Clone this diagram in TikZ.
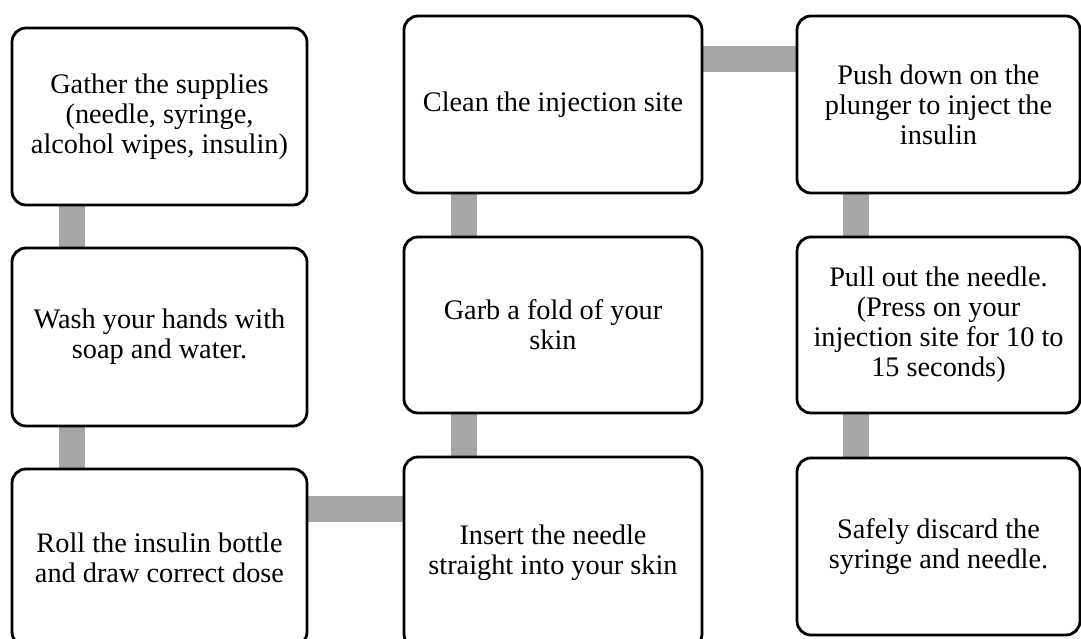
\documentclass[tikz,border=0pt]{standalone}
\usepackage{fontspec}
\setmainfont{Liberation Serif}
\usetikzlibrary{backgrounds}
\definecolor{bargray}{HTML}{A6A6A6}
\tikzset{
  stepbox/.style={rectangle,draw,line width=2.8pt,rounded corners=14pt,fill=white,
    align=center,inner sep=0pt,font=\fontsize{28.3}{30}\selectfont},
  bar/.style={draw=bargray,line width=26pt}
}
\begin{document}
\begin{tikzpicture}[x=1pt,y=-1pt]
\useasboundingbox (0,0) rectangle (1081,639);
\node[stepbox,minimum width=295pt,minimum height=177pt] (gather) at (159.5,116.5) {Gather the supplies\\(needle, syringe,\\alcohol wipes, insulin)};
\node[stepbox,minimum width=295pt,minimum height=178pt] (wash) at (159.5,337) {Wash your hands with\\soap and water.};
\node[stepbox,minimum width=295pt,minimum height=177pt] (roll) at (159.5,557.5) {Roll the insulin bottle\\and draw correct dose};
\node[stepbox,minimum width=298pt,minimum height=177pt] (clean) at (553,104.5) {Clean the injection site};
\node[stepbox,minimum width=298pt,minimum height=176pt] (fold) at (553,325) {Garb a fold of your\\skin};
\node[stepbox,minimum width=298pt,minimum height=191pt] (insert) at (553,552.5) {Insert the needle\\straight into your skin};
\node[stepbox,minimum width=283pt,minimum height=177pt] (push) at (938.5,104.5) {Push down on the\\plunger to inject the\\insulin};
\node[stepbox,minimum width=283pt,minimum height=176pt] (pull) at (938.5,325) {Pull out the needle.\\(Press on your\\injection site for 10 to\\15 seconds)};
\node[stepbox,minimum width=283pt,minimum height=177pt] (discard) at (938.5,546.5) {Safely discard the\\syringe and needle.};
% gray links behind the boxes
\begin{pgfonlayer}{background}
\draw[bar] ([xshift=61pt]gather.south west) -- ([xshift=61pt]wash.north west);
\draw[bar] ([xshift=61pt]wash.south west) -- ([xshift=61pt]roll.north west);
\draw[bar] ([yshift=-41pt]roll.north east) -- ([yshift=-53pt]insert.north west);
\draw[bar] ([xshift=61pt]insert.north west) -- ([xshift=61pt]fold.south west);
\draw[bar] ([xshift=61pt]fold.north west) -- ([xshift=61pt]clean.south west);
\draw[bar] ([yshift=-44pt]clean.north east) -- ([yshift=-44pt]push.north west);
\draw[bar] ([xshift=60.5pt]push.south west) -- ([xshift=60.5pt]pull.north west);
\draw[bar] ([xshift=60.5pt]pull.south west) -- ([xshift=60.5pt]discard.north west);
\end{pgfonlayer}
\end{tikzpicture}
\end{document}
